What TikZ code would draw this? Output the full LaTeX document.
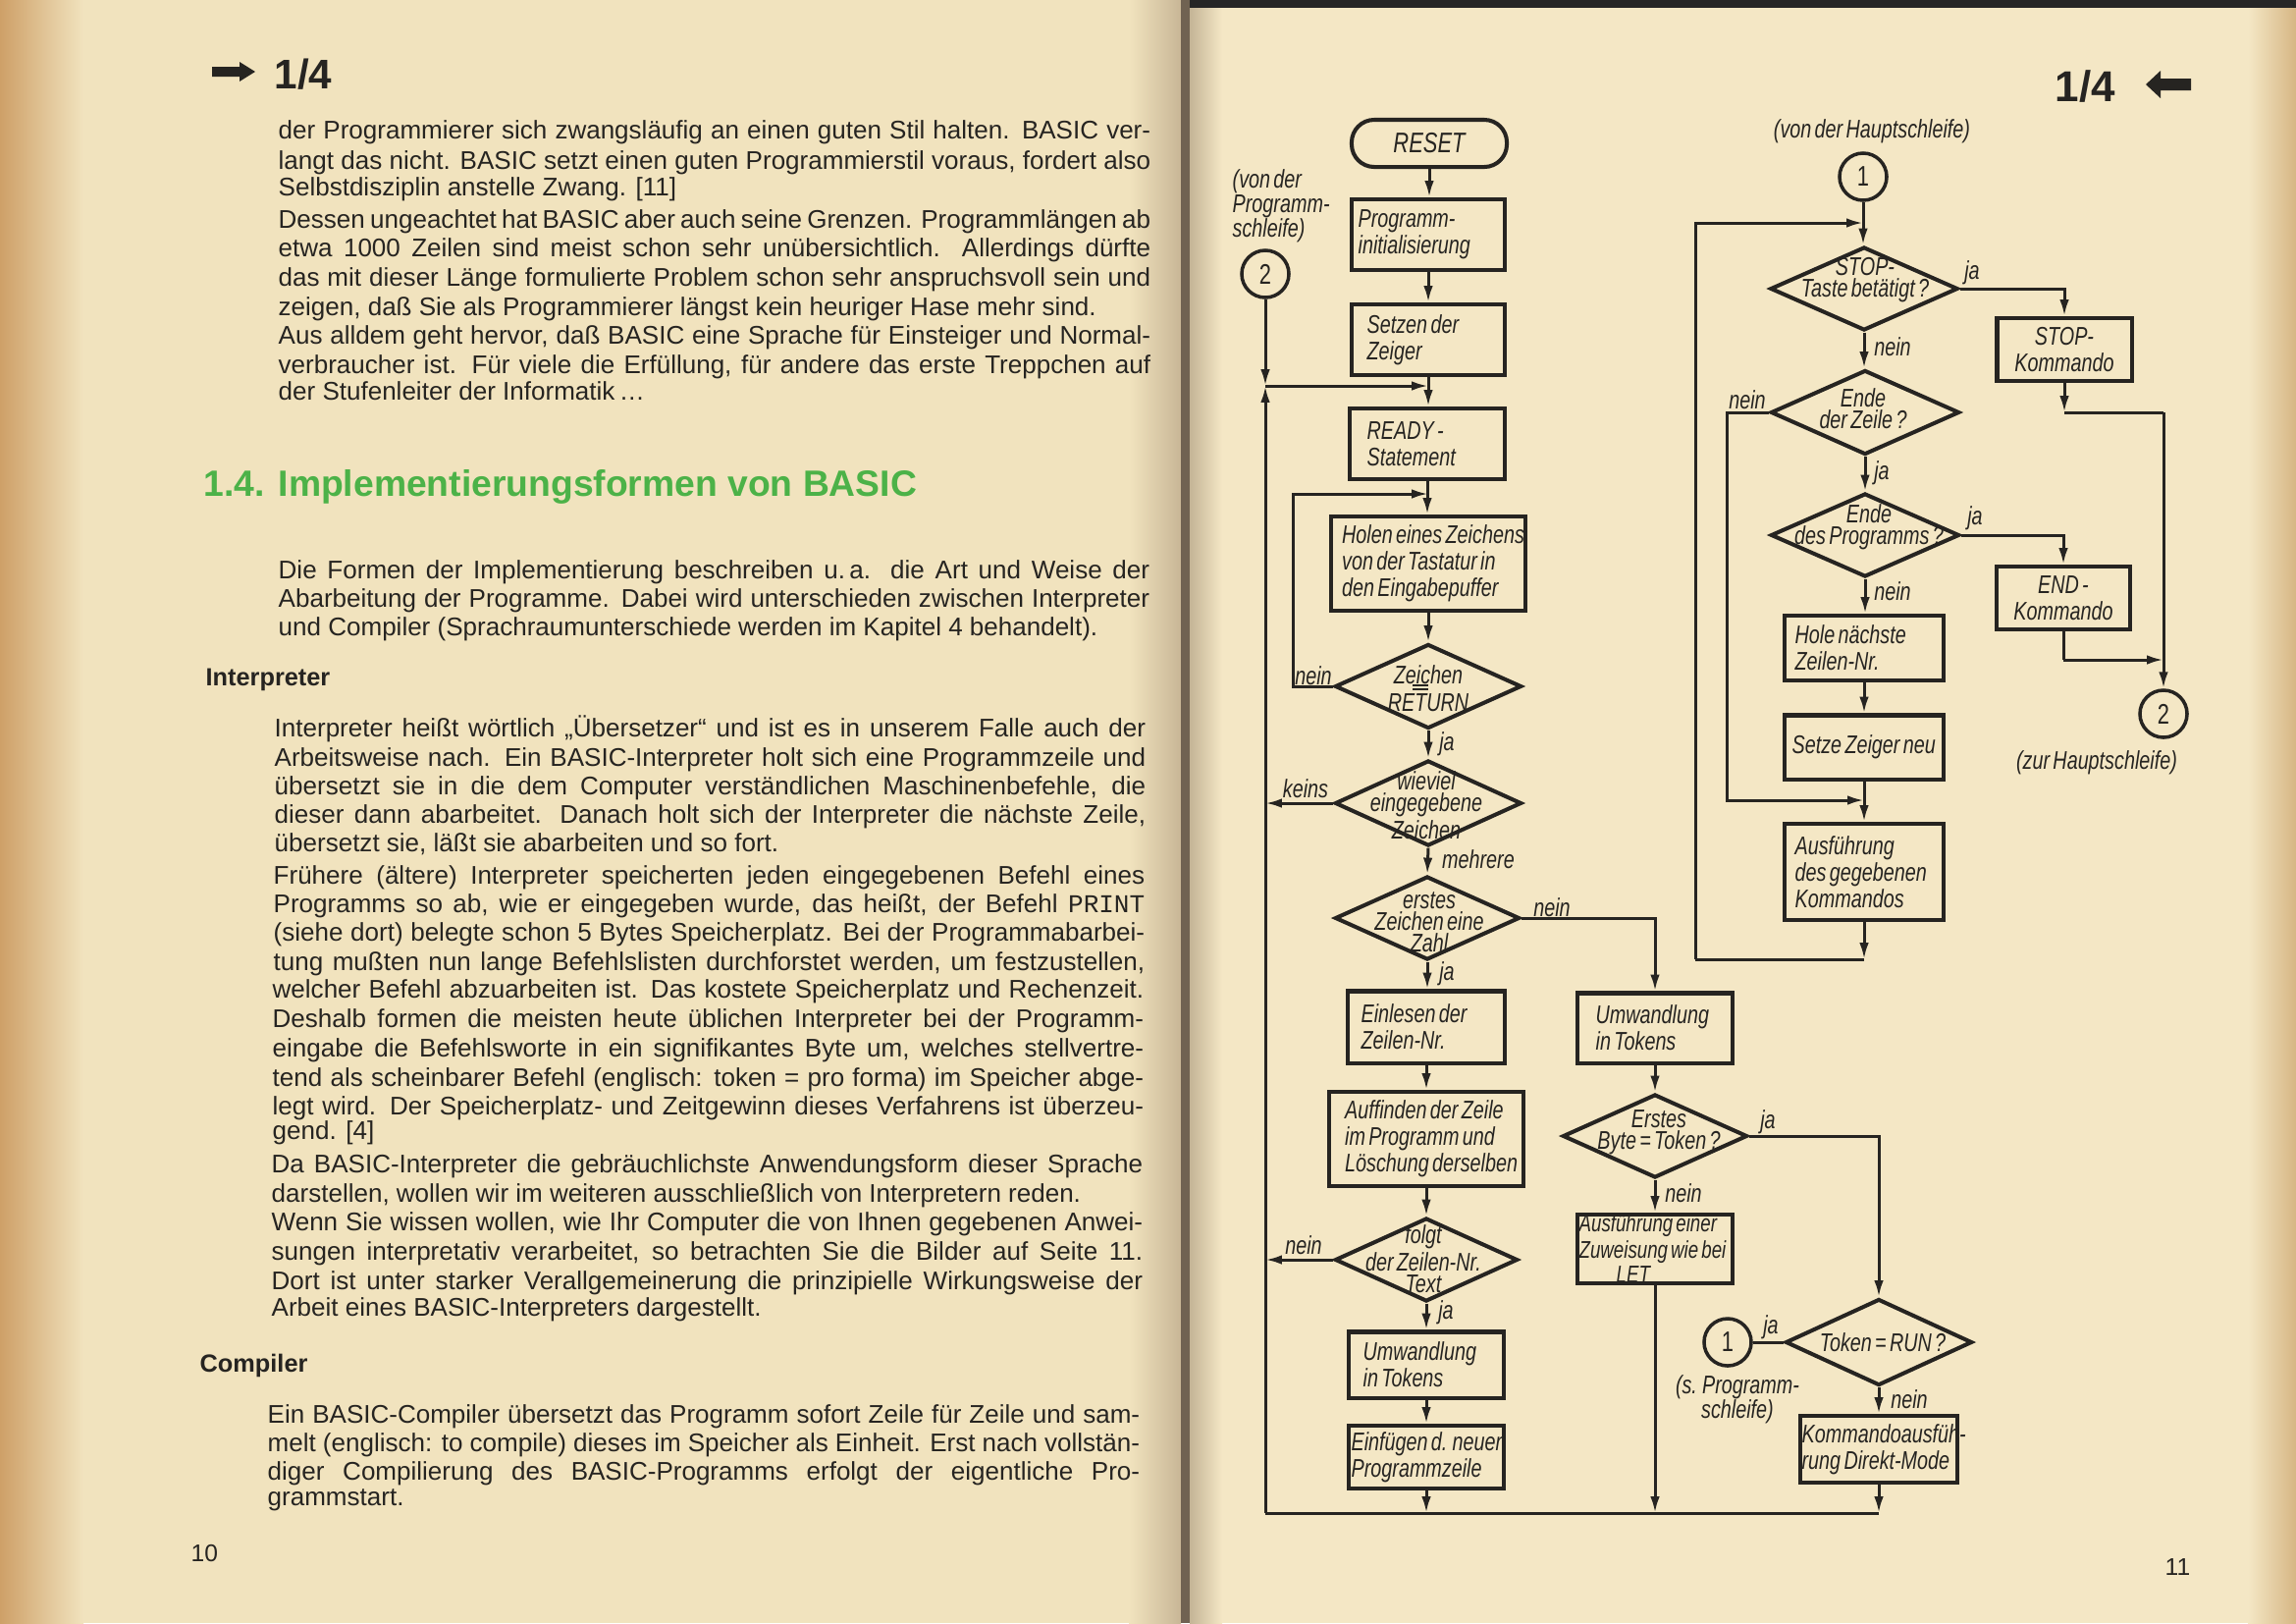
\documentclass[tikz,border=0pt]{standalone}
\usepackage{fontspec}
\setmainfont{Liberation Sans}
\newfontfamily\bodyf{Liberation Sans}
\newfontfamily\flowf[FakeStretch=0.76,WordSpace=0.6]{Liberation Sans}
\newfontfamily\monof{Liberation Mono}
\usetikzlibrary{arrows.meta,shapes.geometric}
\definecolor{ink}{RGB}{38,36,33}
\definecolor{paperL}{RGB}{241,227,190}
\definecolor{paperR}{RGB}{244,231,197}
\definecolor{edgeL}{RGB}{206,160,104}
\definecolor{edgeR}{RGB}{214,182,132}
\definecolor{gutA}{RGB}{200,182,150}
\definecolor{gutD}{RGB}{112,98,82}
\definecolor{gutB}{RGB}{196,180,150}
\definecolor{hgreen}{RGB}{76,178,72}
\begin{document}
\begin{tikzpicture}[x=0.01cm,y=-0.01cm,
  bt/.style={font=\bodyf\fontsize{7.4}{8}\selectfont, text=ink, inner sep=0pt, anchor=base west},
  bh/.style={font=\bodyf\bfseries\fontsize{7.2}{8}\selectfont, text=ink, inner sep=0pt, anchor=base west},
  fl/.style={font=\flowf\itshape\fontsize{7.4}{7.7}\selectfont, text=ink},
  bx/.style={draw=ink, line width=1.15pt, inner sep=0pt},
  bxt/.style={fl, align=left, anchor=west, inner sep=0pt},
  cbx/.style={draw=ink, line width=1.15pt, inner sep=0pt, align=center, fl},
  dmd/.style={draw=ink, line width=1.15pt, diamond, inner sep=0pt},
  dt/.style={font=\flowf\itshape\fontsize{7.4}{6.3}\selectfont, text=ink, align=center, inner sep=0pt},
  circ/.style={draw=ink, line width=1pt, circle, minimum size=0.48cm, inner sep=0pt, font=\flowf\fontsize{8.2}{8}\selectfont, text=ink},
  lab/.style={fl, inner sep=0pt},
  con/.style={draw=ink, line width=0.85pt},
  arr/.style={con, -{Latex[length=4.8pt,width=2.7pt]}}
]
\useasboundingbox (0,0) rectangle (2339,1653);
% ---------- paper ----------
\fill[paperL] (0,0) rectangle (1208,1653);
\fill[paperR] (1208,0) rectangle (2339,1653);
\shade[left color=edgeL, right color=paperL] (0,0) rectangle (85,1653);
\shade[left color=paperL, right color=gutA] (1150,0) rectangle (1203,1653);
\fill[gutD] (1203,0) rectangle (1212,1653);
\shade[left color=gutB, right color=paperR] (1212,0) rectangle (1245,1653);
\shade[left color=paperR, right color=edgeR] (2290,0) rectangle (2339,1653);
\fill[black!85] (1212,0) rectangle (2339,8);

% ---------- left page ----------
\fill[ink] (216,68) -- (244,68) -- (244,63) -- (260,73) -- (244,83) -- (244,78) -- (216,78) -- cycle;
\node[font=\bodyf\bfseries\fontsize{12}{12}\selectfont, text=ink, inner sep=0pt, anchor=base west] (hdl) at (279,90) {1/4};

\node[bt] (t1) at (283,141) {\makebox[8.88cm][s]{der Programmierer sich zwangsläufig an einen guten Stil halten. BASIC ver-}};
\node[bt] (t2) at (283,172) {\makebox[8.88cm][s]{langt das nicht. BASIC setzt einen guten Programmierstil voraus, fordert also}};
\node[bt] (t3) at (283,199) {Selbstdisziplin anstelle Zwang. [11]};
\node[bt] (t4) at (283,232) {\makebox[8.88cm][s]{Dessen ungeachtet hat BASIC aber auch seine Grenzen. Programmlängen ab}};
\node[bt] (t5) at (283,261) {\makebox[8.88cm][s]{etwa 1000 Zeilen sind meist schon sehr unübersichtlich. Allerdings dürfte}};
\node[bt] (t6) at (283,291) {\makebox[8.88cm][s]{das mit dieser Länge formulierte Problem schon sehr anspruchsvoll sein und}};
\node[bt] (t7) at (283,321) {zeigen, daß Sie als Programmierer längst kein heuriger Hase mehr sind.};
\node[bt] (t8) at (283,350) {\makebox[8.88cm][s]{Aus alldem geht hervor, daß BASIC eine Sprache für Einsteiger und Normal-}};
\node[bt] (t9) at (283,380) {\makebox[8.88cm][s]{verbraucher ist. Für viele die Erfüllung, für andere das erste Treppchen auf}};
\node[bt] (t10) at (283,407) {der Stufenleiter der Informatik\,…};

\node[font=\bodyf\bfseries\fontsize{10.6}{11}\selectfont, text=hgreen, inner sep=0pt, anchor=base west] (h1) at (207,505) {1.4. Implementierungsformen von BASIC};

\node[bt] (t11) at (283,589) {\makebox[8.87cm][s]{Die Formen der Implementierung beschreiben u.\,a. die Art und Weise der}};
\node[bt] (t12) at (283,618) {\makebox[8.87cm][s]{Abarbeitung der Programme. Dabei wird unterschieden zwischen Interpreter}};
\node[bt] (t13) at (283,647) {und Compiler (Sprachraumunterschiede werden im Kapitel 4 behandelt).};

\node[bh] (h2) at (209,698) {Interpreter};

\node[bt] (t14) at (279,750) {\makebox[8.87cm][s]{Interpreter heißt wörtlich „Übersetzer“ und ist es in unserem Falle auch der}};
\node[bt] (t15) at (279,780) {\makebox[8.87cm][s]{Arbeitsweise nach. Ein BASIC-Interpreter holt sich eine Programmzeile und}};
\node[bt] (t16) at (279,809) {\makebox[8.87cm][s]{übersetzt sie in die dem Computer verständlichen Maschinenbefehle, die}};
\node[bt] (t17) at (279,838) {\makebox[8.87cm][s]{dieser dann abarbeitet. Danach holt sich der Interpreter die nächste Zeile,}};
\node[bt] (t18) at (279,867) {übersetzt sie, läßt sie abarbeiten und so fort.};
\node[bt] (t19) at (278,900) {\makebox[8.87cm][s]{Frühere (ältere) Interpreter speicherten jeden eingegebenen Befehl eines}};
\node[bt] (t20) at (278,929) {\makebox[8.87cm][s]{Programms so ab, wie er eingegeben wurde, das heißt, der Befehl {\monof PRINT}}};
\node[bt] (t21) at (278,958) {\makebox[8.87cm][s]{(siehe dort) belegte schon 5 Bytes Speicherplatz. Bei der Programmabarbei-}};
\node[bt] (t22) at (278,988) {\makebox[8.87cm][s]{tung mußten nun lange Befehlslisten durchforstet werden, um festzustellen,}};
\node[bt] (t23) at (277,1016) {\makebox[8.87cm][s]{welcher Befehl abzuarbeiten ist. Das kostete Speicherplatz und Rechenzeit.}};
\node[bt] (t24) at (277,1046) {\makebox[8.87cm][s]{Deshalb formen die meisten heute üblichen Interpreter bei der Programm-}};
\node[bt] (t25) at (277,1076) {\makebox[8.87cm][s]{eingabe die Befehlsworte in ein signifikantes Byte um, welches stellvertre-}};
\node[bt] (t26) at (277,1106) {\makebox[8.87cm][s]{tend als scheinbarer Befehl (englisch: token = pro forma) im Speicher abge-}};
\node[bt] (t27) at (277,1135) {\makebox[8.87cm][s]{legt wird. Der Speicherplatz- und Zeitgewinn dieses Verfahrens ist überzeu-}};
\node[bt] (t28) at (277,1160) {gend. [4]};
\node[bt] (t29) at (276,1194) {\makebox[8.87cm][s]{Da BASIC-Interpreter die gebräuchlichste Anwendungsform dieser Sprache}};
\node[bt] (t30) at (276,1224) {darstellen, wollen wir im weiteren ausschließlich von Interpretern reden.};
\node[bt] (t31) at (276,1253) {\makebox[8.87cm][s]{Wenn Sie wissen wollen, wie Ihr Computer die von Ihnen gegebenen Anwei-}};
\node[bt] (t32) at (276,1283) {\makebox[8.87cm][s]{sungen interpretativ verarbeitet, so betrachten Sie die Bilder auf Seite 11.}};
\node[bt] (t33) at (276,1313) {\makebox[8.87cm][s]{Dort ist unter starker Verallgemeinerung die prinzipielle Wirkungsweise der}};
\node[bt] (t34) at (276,1340) {Arbeit eines BASIC-Interpreters dargestellt.};

\node[bh] (h3) at (203,1397) {Compiler};

\node[bt] (t35) at (272,1449) {\makebox[8.88cm][s]{Ein BASIC-Compiler übersetzt das Programm sofort Zeile für Zeile und sam-}};
\node[bt] (t36) at (272,1478) {\makebox[8.88cm][s]{melt (englisch: to compile) dieses im Speicher als Einheit. Erst nach vollstän-}};
\node[bt] (t37) at (272,1507) {\makebox[8.88cm][s]{diger Compilierung des BASIC-Programms erfolgt der eigentliche Pro-}};
\node[bt] (t38) at (272,1533) {grammstart.};

\node[font=\bodyf\fontsize{7}{8}\selectfont, text=ink, inner sep=0pt, anchor=base west] (pn10) at (194,1590) {10};

% ---------- right page header ----------
\node[font=\bodyf\bfseries\fontsize{12.5}{12}\selectfont, text=ink, inner sep=0pt, anchor=base west] (hdr) at (2093,103) {1/4};
\fill[ink] (2232,80) -- (2201,80) -- (2201,72) -- (2186,86) -- (2201,100) -- (2201,92) -- (2232,92) -- cycle;
\node[font=\bodyf\fontsize{7}{8}\selectfont, text=ink, inner sep=0pt, anchor=base west] (pn11) at (2205,1604) {11};

% ---------- flowchart: main loop ----------
\node[draw=ink, line width=1.15pt, rounded corners=0.23cm, minimum width=1.58cm, minimum height=0.48cm, inner sep=0pt, font=\flowf\itshape\fontsize{8.2}{8}\selectfont, text=ink] (reset) at (1456,146) {RESET};

\node[bx, minimum width=1.56cm, minimum height=0.72cm] (init) at (1455,239) {};
\node[bxt] (initt) at ([xshift=0.08cm]init.west) {Programm-\\initialisierung};
\node[bx, minimum width=1.56cm, minimum height=0.72cm] (setzen) at (1455,346) {};
\node[bxt] (setzent) at ([xshift=0.17cm]setzen.west) {Setzen der\\Zeiger};
\node[bx, minimum width=1.58cm, minimum height=0.72cm] (ready) at (1454,452) {};
\node[bxt] (readyt) at ([xshift=0.19cm]ready.west) {READY -\\Statement};
\node[bx, minimum width=1.97cm, minimum height=0.96cm] (holen) at (1455,574) {};
\node[bxt] (holent) at ([xshift=0.12cm]holen.west) {Holen eines Zeichens\\von der Tastatur in\\den Eingabepuffer};
\node[dmd, minimum width=1.90cm, minimum height=0.86cm] (dret) at (1455,699) {};
\node[dt, font=\flowf\itshape\fontsize{7.4}{6.8}\selectfont] (txret) at (1455,701) {Zeichen\\[1pt]RETURN};
\draw[ink, line width=0.6pt] (1439,698) -- (1455,698) (1439,702) -- (1455,702);
\node[dmd, minimum width=1.90cm, minimum height=0.87cm] (dwie) at (1455,818) {};
\node[dt] (txwie) at (1453,820) {wieviel\\eingegebene\\Zeichen};
\node[dmd, minimum width=1.88cm, minimum height=0.85cm] (dzahl) at (1454,935) {};
\node[dt] (txzahl) at (1456,939) {erstes\\Zeichen eine\\Zahl};
\node[bx, minimum width=1.60cm, minimum height=0.73cm] (einl) at (1453,1046) {};
\node[bxt] (einlt) at ([xshift=0.15cm]einl.west) {Einlesen der\\Zeilen-Nr.};
\node[bx, minimum width=1.97cm, minimum height=0.96cm] (auff) at (1453,1160) {};
\node[bxt] (aufft) at ([xshift=0.17cm]auff.west) {Auffinden der Zeile\\im Programm und\\Löschung derselben};
\node[dmd, minimum width=1.86cm, minimum height=0.85cm] (dfolgt) at (1453,1283) {};
\node[dt] (txfolgt) at (1450,1282) {folgt\\der Zeilen-Nr.\\Text};
\node[bx, minimum width=1.58cm, minimum height=0.67cm] (umw1) at (1453,1390) {};
\node[bxt] (umw1t) at ([xshift=0.16cm]umw1.west) {Umwandlung\\in Tokens};
\node[bx, minimum width=1.58cm, minimum height=0.64cm] (einf) at (1453,1484) {};
\node[bxt] (einft) at ([xshift=0.04cm]einf.west) {Einfügen d. neuen\\Programmzeile};

\node[bx, minimum width=1.58cm, minimum height=0.71cm] (umw2) at (1686,1047) {};
\node[bxt] (umw2t) at ([xshift=0.20cm]umw2.west) {Umwandlung\\in Tokens};
\node[dmd, minimum width=1.88cm, minimum height=0.85cm] (dbyte) at (1686,1157) {};
\node[dt] (txbyte) at (1690,1153) {Erstes\\Byte = Token ?};
\node[bx, minimum width=1.58cm, minimum height=0.70cm] (let) at (1686,1272) {};
\node[bxt, font=\flowf\itshape\fontsize{7}{6.1}\selectfont] (lett) at ([xshift=0.03cm]let.west) {Ausführung einer\\Zuweisung wie bei\\\hspace*{0.38cm}LET};
\node[dmd, minimum width=1.90cm, minimum height=0.88cm] (drun) at (1914,1367) {};
\node[dt] (txrun) at (1918,1367) {Token = RUN ?};
\node[circ] (c1b) at (1760,1367) {1};
\node[bx, minimum width=1.60cm, minimum height=0.68cm] (komm) at (1914,1476) {};
\node[bxt] (kommt) at ([xshift=0.03cm]komm.west) {Kommandoausfüh-\\rung Direkt-Mode};

\node[circ] (c2a) at (1289,279) {2};
\node[lab, align=left, anchor=west, font=\flowf\itshape\fontsize{7.4}{7.1}\selectfont] (lvon) at (1255,210) {(von der\\Programm-\\schleife)};
\node[lab, align=center, font=\flowf\itshape\fontsize{7.4}{7.1}\selectfont] (lsp) at (1770,1425) {(s. Programm-\\schleife)};

\coordinate (jL) at (1289,393);
\coordinate (jM) at (1455,393);
\coordinate (lp1) at (1317,699);
\coordinate (lp2) at (1317,503);
\coordinate (lp3) at (1455,503);
\coordinate (kL) at (1289,818);
\coordinate (nL) at (1289,1283);
\coordinate (zR) at (1686,935);
\coordinate (bL) at (1289,1541);
\coordinate (bR) at (1914,1541);
\coordinate (byR) at (1914,1157);

\draw[arr] (reset.south) -- (reset.south |- init.north);
\draw[arr] (init.south) -- (init.south |- setzen.north);
\draw[arr] (setzen.south) -- (setzen.south |- ready.north);
\draw[arr] (c2a.south) -- (jL);
\draw[arr] (jL) -- (jM);
\draw[arr] (bL) -- (jL);
\draw[arr] (ready.south) -- (ready.south |- holen.north);
\draw[arr] (dret.west) -- (lp1) -- (lp2) -- (lp3);
\draw[arr] (holen.south) -- (holen.south |- dret.north);
\draw[arr] (dret.south) -- (dwie.north);
\draw[arr] (dwie.west) -- (kL);
\draw[arr] (dwie.south) -- (dzahl.north);
\draw[arr] (dzahl.south) -- (dzahl.south |- einl.north);
\draw[arr] (dzahl.east) -- (zR) -- (zR |- umw2.north);
\draw[arr] (einl.south) -- (einl.south |- auff.north);
\draw[arr] (auff.south) -- (auff.south |- dfolgt.north);
\draw[arr] (dfolgt.west) -- (nL);
\draw[arr] (dfolgt.south) -- (dfolgt.south |- umw1.north);
\draw[arr] (umw1.south) -- (umw1.south |- einf.north);
\draw[arr] (einf.south) -- (einf.south |- bL);
\draw[arr] (umw2.south) -- (umw2.south |- dbyte.north);
\draw[arr] (dbyte.south) -- (dbyte.south |- let.north);
\draw[arr] (dbyte.east) -- (byR) -- (byR |- drun.north);
\draw[arr] (let.south) -- (let.south |- bL);
\draw[con] (drun.west) -- (c1b.east);
\draw[arr] (drun.south) -- (drun.south |- komm.north);
\draw[arr] (komm.south) -- (komm.south |- bL);
\draw[con] (bR) -- (bL);

\node[lab] (lnein1) at (1338,688) {nein};
\node[lab] (lja1) at (1474,758) {ja};
\node[lab] (lkeins) at (1330,803) {keins};
\node[lab] (lmehr) at (1506,875) {mehrere};
\node[lab] (lnein2) at (1581,924) {nein};
\node[lab] (lja2) at (1474,992) {ja};
\node[lab] (lnein3) at (1328,1268) {nein};
\node[lab] (lja3) at (1473,1337) {ja};
\node[lab] (ljab) at (1801,1143) {ja};
\node[lab] (lneinb) at (1715,1215) {nein};
\node[lab] (ljar) at (1804,1352) {ja};
\node[lab] (lneinr) at (1945,1425) {nein};

% ---------- flowchart: program loop ----------
\node[lab] (lvonh) at (1907,134) {(von der Hauptschleife)};
\node[circ] (c1a) at (1898,180) {1};
\node[dmd, minimum width=1.91cm, minimum height=0.85cm] (dstop) at (1899,294) {};
\node[dt] (txstop) at (1900,285) {STOP-\\Taste betätigt ?};
\node[cbx, minimum width=1.37cm, minimum height=0.64cm] (stopk) at (2103,356) {STOP-\\Kommando};
\node[dmd, minimum width=1.92cm, minimum height=0.86cm] (dzeile) at (1900,420) {};
\node[dt] (txzeile) at (1898,416) {Ende\\der Zeile ?};
\node[dmd, minimum width=1.92cm, minimum height=0.85cm] (dprog) at (1900,545) {};
\node[dt] (txprog) at (1904,537) {Ende\\des Programms ?};
\node[cbx, minimum width=1.36cm, minimum height=0.64cm] (endk) at (2102,609) {END -\\Kommando};
\node[bx, minimum width=1.62cm, minimum height=0.66cm] (hole) at (1899,660) {};
\node[bxt] (holet) at ([xshift=0.12cm]hole.west) {Hole nächste\\Zeilen-Nr.};
\node[bx, minimum width=1.62cm, minimum height=0.65cm] (setze) at (1899,761) {};
\node[bxt] (setzet) at ([xshift=0.09cm]setze.west) {Setze Zeiger neu};
\node[bx, minimum width=1.62cm, minimum height=0.98cm] (ausf) at (1899,888) {};
\node[bxt] (ausft) at ([xshift=0.12cm]ausf.west) {Ausführung\\des gegebenen\\Kommandos};
\node[circ] (c2b) at (2204,727) {2};
\node[lab] (lzur) at (2136,777) {(zur Hauptschleife)};

\coordinate (jT) at (1898,227);
\coordinate (rlA) at (1727,227);
\coordinate (rlB) at (1727,977);
\coordinate (rlC) at (1899,977);
\coordinate (stopR) at (2103,294);
\coordinate (skJ) at (2103,420);
\coordinate (rJ) at (2204,420);
\coordinate (zlA) at (1759,420);
\coordinate (zlB) at (1759,815);
\coordinate (zlC) at (1899,815);
\coordinate (prR) at (2102,545);
\coordinate (ekA) at (2102,672);
\coordinate (ekB) at (2204,672);

\draw[arr] (c1a.south) -- (c1a.south |- dstop.north);
\draw[arr] (rlB) -- (rlA) -- (jT);
\draw[arr] (ausf.south) -- (rlC);
\draw[con] (rlC) -- (rlB);
\draw[arr] (dstop.east) -- (stopR) -- (stopR |- stopk.north);
\draw[arr] (dstop.south) -- (dstop.south |- dzeile.north);
\draw[arr] (stopk.south) -- (skJ);
\draw[con] (skJ) -- (rJ);
\draw[arr] (rJ) -- (c2b.north);
\draw[arr] (dzeile.west) -- (zlA) -- (zlB) -- (zlC);
\draw[arr] (dzeile.south) -- (dzeile.south |- dprog.north);
\draw[arr] (dprog.east) -- (prR) -- (prR |- endk.north);
\draw[arr] (dprog.south) -- (dprog.south |- hole.north);
\draw[con] (endk.south) -- (ekA);
\draw[arr] (ekA) -- (ekB);
\draw[arr] (hole.south) -- (hole.south |- setze.north);
\draw[arr] (setze.south) -- (setze.south |- ausf.north);

\node[lab] (ljas) at (2009,278) {ja};
\node[lab] (lneins) at (1928,353) {nein};
\node[lab] (lneinz) at (1780,407) {nein};
\node[lab] (ljaz) at (1917,482) {ja};
\node[lab] (ljap) at (2012,528) {ja};
\node[lab] (lneinp) at (1928,602) {nein};
\end{tikzpicture}
\end{document}
